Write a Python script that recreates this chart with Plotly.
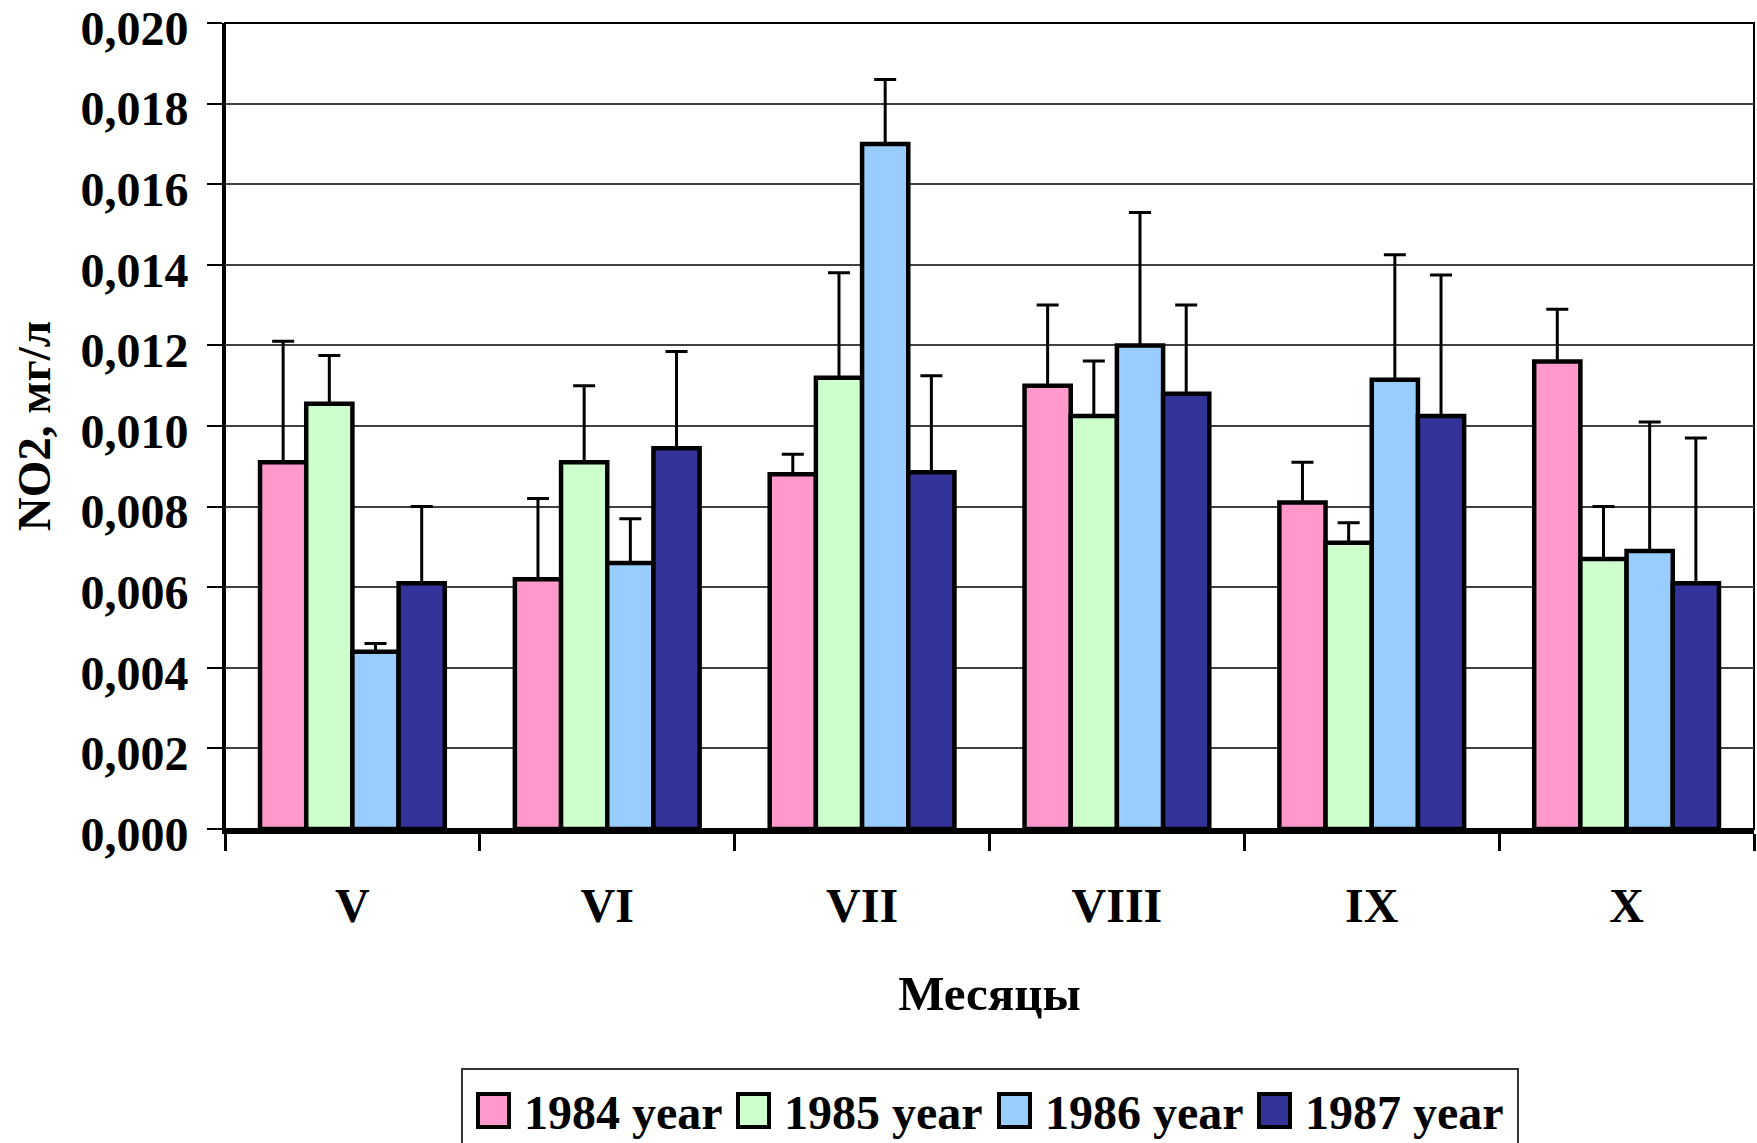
import plotly.graph_objects as go

# Months (Roman numerals) and mean NO2 concentrations, mg/l
months = ["V", "VI", "VII", "VIII", "IX", "X"]

no2_1984 = [0.0091, 0.0062, 0.0088, 0.0110, 0.0081, 0.0116]
no2_1985 = [0.01055, 0.0091, 0.0112, 0.01025, 0.0071, 0.0067]
no2_1986 = [0.0044, 0.0066, 0.0170, 0.0120, 0.01115, 0.0069]
no2_1987 = [0.0061, 0.00945, 0.00885, 0.0108, 0.01025, 0.0061]

# Upper error (standard deviation)
err_1984 = [0.0030, 0.0020, 0.0005, 0.0020, 0.0010, 0.0013]
err_1985 = [0.0012, 0.0019, 0.0026, 0.00136, 0.0005, 0.0013]
err_1986 = [0.0002, 0.0011, 0.0016, 0.0033, 0.0031, 0.0032]
err_1987 = [0.0019, 0.0024, 0.0024, 0.0022, 0.0035, 0.0036]

y_ticks = [0.000, 0.002, 0.004, 0.006, 0.008, 0.010,
           0.012, 0.014, 0.016, 0.018, 0.020]

series_names = ["1984 year", "1985 year", "1986 year", "1987 year"]
series_colors = ["#FF99CC", "#CCFFCC", "#99CCFF", "#333399"]

values = [no2_1984, no2_1985, no2_1986, no2_1987]
errors = [err_1984, err_1985, err_1986, err_1987]

FONT = "Liberation Serif, Times New Roman, serif"

# Figure and plot-area geometry (pixels)
W, H = 1757, 1143
ML, MR, MT, MB = 225, 3, 23, 314
PW, PH = W - ML - MR, H - MT - MB


def px_x(px):
    return (px - ML) / PW


def px_y(py):
    return (H - MB - py) / PH


fig = go.Figure()
for name, color, vals, errs in zip(series_names, series_colors, values, errors):
    fig.add_trace(go.Bar(
        x=months,
        y=vals,
        name=name,
        showlegend=False,
        marker=dict(color=color, line=dict(color="black", width=4.5)),
        error_y=dict(type="data", array=errs, symmetric=False,
                     arrayminus=[0] * len(errs),
                     color="black", thickness=3, width=11),
    ))

# Boxed legend below the chart: swatch + label for each year
shapes = [dict(type="rect", xref="paper", yref="paper",
               x0=0, x1=1, y0=0, y1=1,
               line=dict(color="black", width=2), layer="below")]
annotations = []

legend_left, legend_right, legend_top = 462, 1518, 1069
shapes.append(dict(type="rect", xref="paper", yref="paper",
                   x0=px_x(legend_left), x1=px_x(legend_right),
                   y0=px_y(legend_top), y1=px_y(H + 30),
                   line=dict(color="#333333", width=2),
                   fillcolor="white", layer="above"))

swatch_x = [478, 738, 999, 1259]
swatch_w, swatch_top, swatch_bot = 31, 1094, 1127
for name, color, sx in zip(series_names, series_colors, swatch_x):
    shapes.append(dict(type="rect", xref="paper", yref="paper",
                       x0=px_x(sx), x1=px_x(sx + swatch_w),
                       y0=px_y(swatch_bot), y1=px_y(swatch_top),
                       line=dict(color="black", width=4),
                       fillcolor=color, layer="above"))
    annotations.append(dict(xref="paper", yref="paper",
                            x=px_x(sx + 44), y=px_y(1112),
                            xanchor="left", yanchor="middle",
                            text=name, showarrow=False,
                            font=dict(family=FONT, size=48, color="black",
                                      weight="bold")))

fig.update_layout(
    width=W,
    height=H,
    barmode="group",
    bargap=0.275,
    bargroupgap=0,
    separators=", ",
    paper_bgcolor="white",
    plot_bgcolor="white",
    margin=dict(l=ML, r=MR, t=MT, b=MB, autoexpand=False),
    font=dict(family=FONT, size=48, color="black", weight="bold"),
    showlegend=False,
    shapes=shapes,
    annotations=annotations,
)

fig.update_xaxes(
    title=dict(text="Месяцы", standoff=47,
               font=dict(family=FONT, size=49, weight="bold")),
    showline=True, linecolor="black", linewidth=5,
    ticks="outside", tickson="boundaries", ticklen=17, tickwidth=3,
    tickcolor="black",
    ticklabelstandoff=30,
    tickfont=dict(family=FONT, size=48, weight="bold"),
    showgrid=False,
    automargin=False,
)

fig.update_yaxes(
    title=dict(text="NO2, мг/л", standoff=15,
               font=dict(family=FONT, size=47, weight="bold")),
    range=[0, 0.020],
    tickmode="array",
    tickvals=y_ticks,
    tickformat=".3f",
    ticklabeloverflow="allow",
    ticklabelshift=5,
    showline=True, linecolor="black", linewidth=3,
    ticks="outside", ticklen=15, tickwidth=2, tickcolor="black",
    ticklabelstandoff=9,
    tickfont=dict(family=FONT, size=48, weight="bold"),
    showgrid=True, gridcolor="#404040", gridwidth=2,
    zeroline=False,
    automargin=False,
)

fig.write_html("out.html")
